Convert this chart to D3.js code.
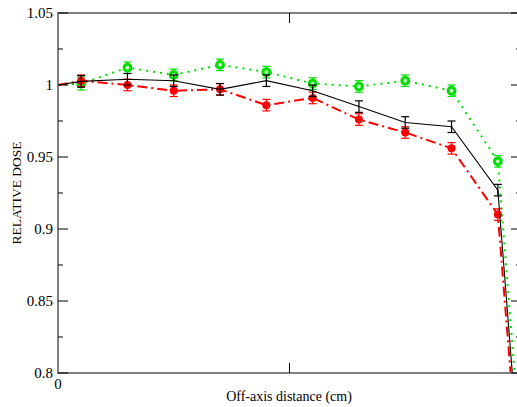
<!DOCTYPE html>
<html>
<head>
<meta charset="utf-8">
<script src="https://cdn.jsdelivr.net/npm/d3@7"></script>
<style>
  body { margin: 0; background: #fff; }
  text { font-family: "Liberation Serif", "DejaVu Serif", serif; fill: #000; }
</style>
</head>
<body>
<div id="chart"></div>
<script>
// off-axis positions (cm)
var xs = [0, 0.5, 1.5, 2.5, 3.5, 4.5, 5.5, 6.5, 7.5, 8.5, 9.5, 10.5];
var blackDose = [1.0, 1.0025, 1.004, 1.003, 0.997, 1.003, 0.996, 0.985, 0.974, 0.971, 0.927, 0.52];
var blackErr  = [0, 0.004, 0.004, 0.004, 0.004, 0.004, 0.004, 0.004, 0.004, 0.004, 0.004, 0];
var redDose   = [1.0, 1.003, 1.000, 0.996, 0.997, 0.986, 0.991, 0.976, 0.967, 0.956, 0.910, 0.51];
var redErr    = [0, 0.004, 0.004, 0.004, 0.004, 0.004, 0.004, 0.004, 0.004, 0.004, 0.004, 0];
var greenDose = [1.0, 1.001, 1.012, 1.007, 1.014, 1.009, 1.001, 0.999, 1.003, 0.996, 0.947, 0.54];
var greenErr  = [0, 0.0045, 0.004, 0.004, 0.004, 0.004, 0.004, 0.004, 0.004, 0.004, 0.004, 0];
var yTicks = [0.8, 0.85, 0.9, 0.95, 1, 1.05];
var yTickLabels = ["0.8", "0.85", "0.9", "0.95", "1", "1.05"];

var W = 517, H = 407;
var x = d3.scaleLinear().domain([0, 10]).range([58, 521]);
var y = d3.scaleLinear().domain([0.8, 1.05]).range([373, 13]);

var svg = d3.select("#chart").append("svg").attr("width", W).attr("height", H);

svg.append("clipPath").attr("id", "plotclip")
  .append("rect")
  .attr("x", x(0)).attr("y", y(1.05))
  .attr("width", x(10) - x(0)).attr("height", y(0.8) - y(1.05));

var plot = svg.append("g").attr("clip-path", "url(#plotclip)");

var series = [
  { vals: greenDose, err: greenErr, color: "#00e000", width: 2, dash: "2,5", marker: "ring" },
  { vals: redDose, err: redErr, color: "#ff0000", width: 2, dash: "10,4,2,4", marker: "dot" },
  { vals: blackDose, err: blackErr, color: "#000", width: 1.1, dash: null, marker: null }
];

var line = d3.line().x(function (d) { return x(d[0]); }).y(function (d) { return y(d[1]); });

series.forEach(function (s) {
  var pts = xs.map(function (v, i) { return [v, s.vals[i], s.err[i]]; });
  plot.append("path")
    .attr("d", line(pts))
    .attr("fill", "none")
    .attr("stroke", s.color)
    .attr("stroke-width", s.width)
    .attr("stroke-dasharray", s.dash);

  var eb = plot.append("g").attr("stroke", s.color).attr("stroke-width", 1.2);
  pts.filter(function (d) { return d[2] > 0; }).forEach(function (d) {
    var cx = x(d[0]), y0 = y(d[1] - d[2]), y1 = y(d[1] + d[2]);
    eb.append("line").attr("x1", cx).attr("x2", cx).attr("y1", y0).attr("y2", y1);
    eb.append("line").attr("x1", cx - 4).attr("x2", cx + 4).attr("y1", y0).attr("y2", y0);
    eb.append("line").attr("x1", cx - 4).attr("x2", cx + 4).attr("y1", y1).attr("y2", y1);
  });

  if (s.marker) {
    plot.selectAll(null).data(pts.filter(function (d) { return d[2] > 0; }))
      .enter().append("circle")
      .attr("cx", function (d) { return x(d[0]); })
      .attr("cy", function (d) { return y(d[1]); })
      .attr("r", s.marker === "ring" ? 3.4 : 4)
      .attr("fill", s.marker === "ring" ? "#c8ffc8" : s.color)
      .attr("stroke", s.marker === "ring" ? s.color : "none")
      .attr("stroke-width", 3);
  }
});

// frame
svg.append("rect")
  .attr("x", x(0)).attr("y", y(1.05))
  .attr("width", x(10) - x(0)).attr("height", y(0.8) - y(1.05))
  .attr("fill", "none").attr("stroke", "#808080").attr("stroke-width", 2);

// y ticks (inward, both sides)
var yMinor = yTicks.slice(0, -1).map(function (v) { return v + 0.025; });
var tk = svg.append("g").attr("stroke", "#000").attr("stroke-width", 1);
yTicks.forEach(function (v) {
  tk.append("line").attr("x1", x(0)).attr("x2", x(0) + 10).attr("y1", y(v)).attr("y2", y(v));
  tk.append("line").attr("x1", x(10)).attr("x2", x(10) - 10).attr("y1", y(v)).attr("y2", y(v));
});
yMinor.forEach(function (v) {
  tk.append("line").attr("x1", x(0)).attr("x2", x(0) + 5).attr("y1", y(v)).attr("y2", y(v));
  tk.append("line").attr("x1", x(10)).attr("x2", x(10) - 5).attr("y1", y(v)).attr("y2", y(v));
});
// x tick at 5 cm
tk.append("line").attr("x1", x(5)).attr("x2", x(5)).attr("y1", y(0.8)).attr("y2", y(0.8) - 10);
tk.append("line").attr("x1", x(5)).attr("x2", x(5)).attr("y1", y(1.05)).attr("y2", y(1.05) + 10);

svg.append("g").selectAll("text").data(yTicks).enter().append("text")
  .attr("x", x(0) - 5)
  .attr("y", function (d) { return y(d) + 5; })
  .attr("text-anchor", "end")
  .style("font-size", "15px")
  .text(function (d, i) { return yTickLabels[i]; });

svg.append("text").attr("x", x(0)).attr("y", y(0.8) + 16)
  .attr("text-anchor", "middle").style("font-size", "15px").text("0");

svg.append("text")
  .attr("x", 289).attr("y", 401)
  .attr("text-anchor", "middle").style("font-size", "14px")
  .text("Off-axis distance (cm)");

svg.append("text")
  .attr("transform", "translate(21," + y(0.925) + ") rotate(-90)")
  .attr("text-anchor", "middle").style("font-size", "13.5px")
  .text("RELATIVE DOSE");
</script>
</body>
</html>
